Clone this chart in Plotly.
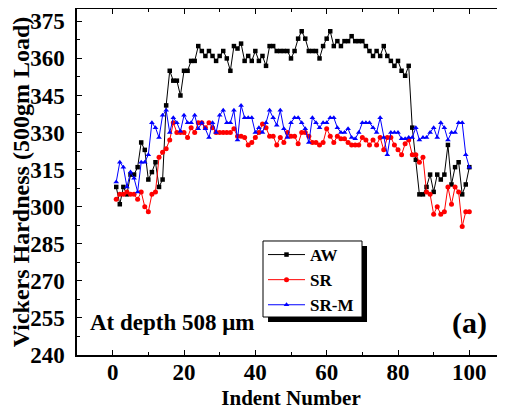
import plotly.graph_objects as go

indent = list(range(1, 101))

aw = [308, 301, 308, 305, 313, 313, 316, 326, 323, 311,
      314, 318, 308, 311, 341, 355, 351, 351, 345, 355,
      355, 359, 359, 365, 363, 361, 363, 361, 359, 361,
      363, 360, 355, 365, 364, 366, 359, 361, 359, 363,
      359, 361, 357, 365, 365, 363, 363, 363, 363, 360,
      363, 368, 371, 368, 363, 363, 363, 360, 365, 368,
      371, 365, 367, 365, 367, 367, 369, 367, 367, 367,
      365, 363, 361, 363, 361, 365, 361, 359, 357, 359,
      355, 353, 357, 332, 319, 305, 305, 308, 313, 306,
      313, 311, 313, 325, 309, 316, 318, 305, 309, 316]

sr = [303, 305, 305, 306, 305, 305, 303, 306, 300, 298,
      305, 306, 320, 322, 323.5, 327, 334, 330, 330, 330,
      328, 332, 330, 334, 334, 332, 334, 332, 330, 330,
      330, 330, 330, 331.5, 328.5, 328.5, 328, 325, 326, 328,
      330, 333.5, 332, 328.5, 328.5, 325, 328, 326, 330, 328.5,
      328.5, 325.5, 330, 330, 328.5, 326, 326, 325, 326, 331.5,
      328.5, 326, 328.5, 327.5, 327.5, 326, 325, 325, 325, 328,
      327, 325, 327, 325, 328, 323, 328, 328, 325, 323,
      321, 325.5, 327, 321, 321, 318, 320, 306, 305, 297,
      300, 297, 298, 308, 301, 308, 306, 292, 298, 298]

srm = [310, 318, 316, 308, 314, 311.5, 306, 318, 318, 321,
       334, 332, 328, 337, 339, 330, 336, 334, 330.5, 337,
       334, 334, 337, 331.5, 334, 331.5, 328, 334, 330, 337,
       339, 334, 334, 339, 327, 341, 336, 336, 336, 330,
       332, 330, 334, 339, 336, 333, 339, 331.5, 328, 334,
       336, 336, 334, 331.5, 326, 336, 334, 332, 334, 334,
       336, 336, 332, 330, 330, 331.5, 328, 327.5, 330, 334,
       334, 334, 332, 330, 336, 328, 321, 330, 330, 330,
       327.5, 327.5, 328, 328, 332, 327, 328, 328, 330, 332,
       328, 334, 332, 327, 330, 330, 334, 334, 321, 316]

series_names = ["AW", "SR", "SR-M"]
x_ticks = [0, 20, 40, 60, 80, 100]
y_ticks = [240, 255, 270, 285, 300, 315, 330, 345, 360, 375]

FONT = "serif"

fig = go.Figure()
fig.add_trace(go.Scatter(x=indent, y=aw, name=series_names[0], mode="lines+markers",
                         line=dict(color="black", width=1),
                         marker=dict(symbol="square", size=4.5, color="black")))
fig.add_trace(go.Scatter(x=indent, y=sr, name=series_names[1], mode="lines+markers",
                         line=dict(color="red", width=1),
                         marker=dict(symbol="circle", size=5, color="red")))
fig.add_trace(go.Scatter(x=indent, y=srm, name=series_names[2], mode="lines+markers",
                         line=dict(color="blue", width=1),
                         marker=dict(symbol="triangle-up", size=5, color="blue")))

axis_common = dict(showline=True, linecolor="black", linewidth=1.5, mirror="allticks",
                   ticks="inside", ticklen=5, tickwidth=1.2, tickcolor="black",
                   showgrid=False, zeroline=False, automargin=False,
                   tickfont=dict(family=FONT, size=23, color="black", weight="bold"))

fig.update_xaxes(range=[-10, 110], tickvals=x_ticks, ticklabelstandoff=-4,
                 minor=dict(ticks="inside", dtick=10, tick0=0, ticklen=3, tickcolor="black", showgrid=False),
                 title=dict(text="Indent Number", font=dict(family=FONT, size=21, color="black", weight="bold"),
                            standoff=6),
                 **axis_common)
fig.update_yaxes(range=[240, 380], tickvals=y_ticks, ticklabelstandoff=6,
                 minor=dict(ticks="inside", dtick=7.5, tick0=240, ticklen=3, tickcolor="black", showgrid=False),
                 title=dict(text="Vickers Hardness (500gm Load)",
                            font=dict(family=FONT, size=24, color="black", weight="bold"), standoff=3),
                 **axis_common)

# legend shadow and frame
fig.add_shape(type="rect", xref="paper", yref="paper",
              x0=0.4463, x1=0.6776, y0=0.0954, y1=0.315,
              fillcolor="black", line=dict(width=0), layer="above")
fig.add_shape(type="rect", xref="paper", yref="paper",
              x0=0.4346, x1=0.6659, y0=0.1098, y1=0.3295,
              fillcolor="white", line=dict(color="black", width=1), layer="above")

fig.add_annotation(text="At depth 508 μm", xref="paper", yref="paper",
                   x=0.0257, y=0.0925, xanchor="left", yanchor="middle", showarrow=False,
                   font=dict(family=FONT, size=23, color="black", weight="bold"))
fig.add_annotation(text="(a)", xref="paper", yref="paper",
                   x=0.9626, y=0.0925, xanchor="right", yanchor="middle", showarrow=False,
                   font=dict(family=FONT, size=30, color="black", weight="bold"))

fig.update_layout(width=497, height=408,
                  margin=dict(l=69, r=0, t=1, b=61),
                  paper_bgcolor="white", plot_bgcolor="white",
                  showlegend=True,
                  legend=dict(x=0.4346, y=0.341, xanchor="left", yanchor="top",
                              bgcolor="rgba(0,0,0,0)", borderwidth=0,
                              font=dict(family=FONT, size=17, color="black", weight="bold"),
                              tracegroupgap=0, itemwidth=37))

fig.write_html("out.html")
